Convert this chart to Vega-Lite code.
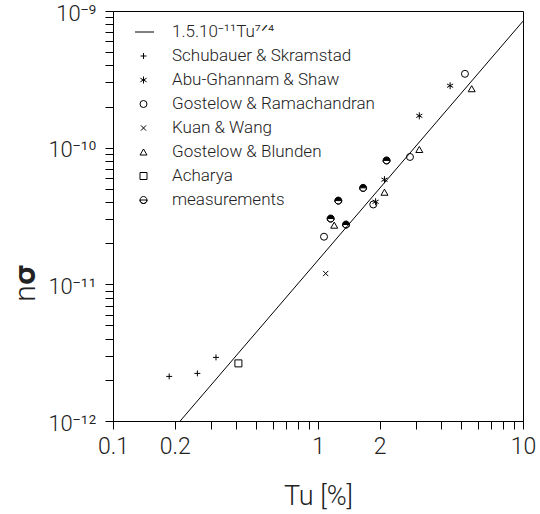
{
  "$schema": "https://vega.github.io/schema/vega-lite/v6.json",
  "autosize": {"type": "none"},
  "width": 410,
  "height": 410,
  "padding": {"left": 113, "top": 11, "right": 17, "bottom": 93},
  "background": "white",
  "config": {
    "view": {"stroke": "black", "strokeWidth": 1},
    "font": "Roboto",
    "axis": {"domainColor": "black", "tickColor": "black", "labelColor": "#222", "titleColor": "#222", "labelFont": "Roboto", "titleFont": "Roboto", "labelFontWeight": 300, "titleFontWeight": 300, "grid": false}
  },
  "datasets": {
    "pts": [
      {"Tu": 0.188, "v": 2.12e-12, "series": "Schubauer & Skramstad"},
      {"Tu": 0.258, "v": 2.23e-12, "series": "Schubauer & Skramstad"},
      {"Tu": 0.318, "v": 2.92e-12, "series": "Schubauer & Skramstad"},
      {"Tu": 1.91, "v": 4.02e-11, "series": "Abu-Ghannam & Shaw"},
      {"Tu": 2.11, "v": 5.83e-11, "series": "Abu-Ghannam & Shaw"},
      {"Tu": 3.12, "v": 1.71e-10, "series": "Abu-Ghannam & Shaw"},
      {"Tu": 4.41, "v": 2.84e-10, "series": "Abu-Ghannam & Shaw"},
      {"Tu": 1.07, "v": 2.23e-11, "series": "Gostelow & Ramachandran"},
      {"Tu": 1.86, "v": 3.84e-11, "series": "Gostelow & Ramachandran"},
      {"Tu": 2.81, "v": 8.55e-11, "series": "Gostelow & Ramachandran"},
      {"Tu": 5.21, "v": 3.47e-10, "series": "Gostelow & Ramachandran"},
      {"Tu": 1.09, "v": 1.2e-11, "series": "Kuan & Wang"},
      {"Tu": 1.2, "v": 2.71e-11, "series": "Gostelow & Blunden"},
      {"Tu": 2.11, "v": 4.72e-11, "series": "Gostelow & Blunden"},
      {"Tu": 3.12, "v": 9.7e-11, "series": "Gostelow & Blunden"},
      {"Tu": 5.62, "v": 2.7e-10, "series": "Gostelow & Blunden"},
      {"Tu": 0.409, "v": 2.64e-12, "series": "Acharya"},
      {"Tu": 1.153, "v": 3.03e-11, "series": "measurements"},
      {"Tu": 1.37, "v": 2.74e-11, "series": "measurements"},
      {"Tu": 1.256, "v": 4.1e-11, "series": "measurements"},
      {"Tu": 1.66, "v": 5.08e-11, "series": "measurements"},
      {"Tu": 2.16, "v": 8.07e-11, "series": "measurements"}
    ],
    "fit": [
      {"Tu": 0.2127, "v": 1e-12},
      {"Tu": 10, "v": 8.43e-10}
    ]
  },
  "layer": [
    {
      "data": {"name": "fit"},
      "mark": {"type": "line", "color": "black", "strokeWidth": 1, "clip": true},
      "encoding": {
        "x": {"field": "Tu", "type": "quantitative", "scale": {"type": "log", "domain": [0.1, 10], "nice": false},
          "axis": {"title": "Tu [%]", "titleFontSize": 27, "titleY": 62, "titleBaseline": "top", "labelFontSize": 23, "tickSize": 8, "labelPadding": 6,
            "values": [0.1,0.2,0.3,0.4,0.5,0.6,0.7,0.8,0.9,1,2,3,4,5,6,7,8,9,10],
            "format": "~g",
            "labelExpr": "indexof([0.1,0.2,1,2,10], datum.value) >= 0 ? datum.label : ''",
            "labelOverlap": false, "labelFlush": false,
            "encode": {"ticks": {"update": {"y2": {"signal": "abs(log(datum.value)/LN10 - round(log(datum.value)/LN10)) < 0.001 ? 8 : 5"}}}}
          }},
        "y": {"field": "v", "type": "quantitative", "scale": {"type": "log", "domain": [1e-12, 1e-9], "nice": false},
          "axis": {"title": "n𝛔", "titleFontSize": 30, "titleAngle": -90, "titleX": -88, "titleY": 272, "titleAlign": "center", "titleBaseline": "middle", "labelFontSize": 22, "tickSize": 8, "labelPadding": 9, "labelOffset": 2,
            "values": [1e-12,2e-12,3e-12,4e-12,5e-12,6e-12,7e-12,8e-12,9e-12,1e-11,2e-11,3e-11,4e-11,5e-11,6e-11,7e-11,8e-11,9e-11,1e-10,2e-10,3e-10,4e-10,5e-10,6e-10,7e-10,8e-10,9e-10,1e-9],
            "labelExpr": "abs(log(datum.value)/LN10 - round(log(datum.value)/LN10)) > 0.001 ? '' : round(log(datum.value)/LN10) == -9 ? '10⁻⁹' : round(log(datum.value)/LN10) == -10 ? '10⁻¹⁰' : round(log(datum.value)/LN10) == -11 ? '10⁻¹¹' : '10⁻¹²'",
            "labelOverlap": false, "labelFlush": false,
            "encode": {"ticks": {"update": {"x2": {"signal": "abs(log(datum.value)/LN10 - round(log(datum.value)/LN10)) < 0.001 ? -8 : -4"}}}}
          }}
      }
    },
    {
      "data": {"name": "pts"},
      "mark": {"type": "point", "size": 49, "strokeWidth": 1, "opacity": 1},
      "encoding": {
        "x": {"field": "Tu", "type": "quantitative"},
        "y": {"field": "v", "type": "quantitative"},
        "stroke": {"value": "black"},
        "fill": {"condition": {"test": "datum.series == 'measurements'", "value": "black"}, "value": "transparent"},
        "shape": {"field": "series", "type": "nominal",
          "scale": {
            "domain": ["1.5.10⁻¹¹Tu⁷ᐟ⁴", "Schubauer & Skramstad", "Abu-Ghannam & Shaw", "Gostelow & Ramachandran", "Kuan & Wang", "Gostelow & Blunden", "Acharya", "measurements"],
            "range": ["M-3,0H3", "M-0.85,0H0.85M0,-0.85V0.85", "M0,-1V1M-0.87,-0.5L0.87,0.5M-0.87,0.5L0.87,-0.5", "circle", "M-0.75,-0.75L0.75,0.75M-0.75,0.75L0.75,-0.75", "triangle-up", "square", "M-1,0A1,1 0 0,1 1,0ZM-1,0A1,1 0 0,0 1,0A1,1 0 0,1 -1,0"]
          },
          "legend": {
            "title": null, "orient": "none", "legendX": 22, "legendY": 9, "padding": 0,
            "symbolSize": 49, "symbolStrokeWidth": 1, "symbolStrokeColor": "black",
            "labelFont": "Roboto", "labelFontWeight": 300, "labelFontSize": 17, "labelColor": "#222",
            "labelOffset": 20, "clipHeight": 24, "rowPadding": 0, "labelLimit": 400,
            "encode": {"symbols": {"update": {"fill": {"signal": "datum.value == 'measurements' ? 'black' : 'transparent'"}, "stroke": {"value": "black"}, "opacity": {"value": 1}}}}
          }
        }
      }
    }
  ]
}
